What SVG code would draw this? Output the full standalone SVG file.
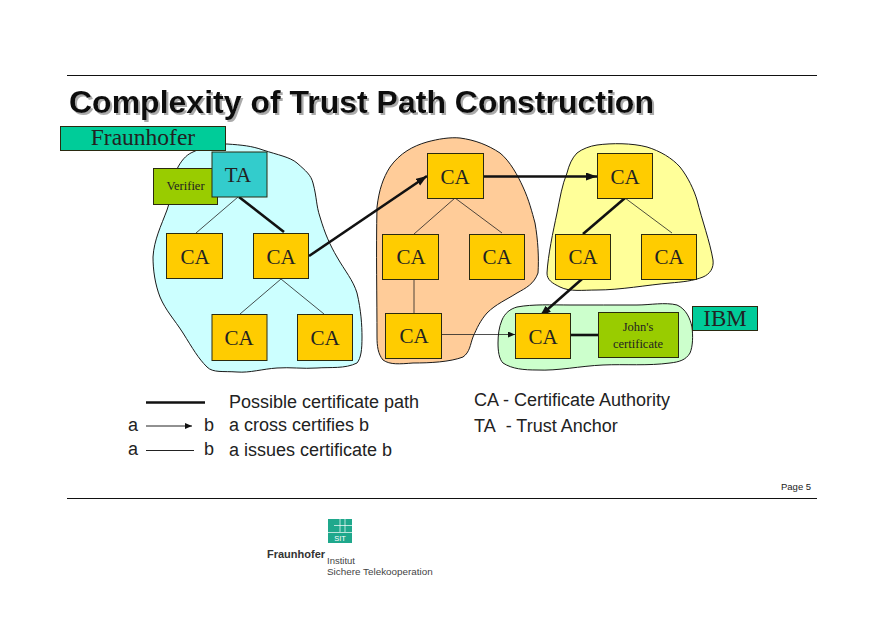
<svg xmlns="http://www.w3.org/2000/svg" width="891" height="630" viewBox="0 0 891 630">
<style>
.blob{stroke:#1a1a1a;stroke-width:1}
.box{stroke:#2a2a10;stroke-width:1}
.ca{fill:#ffcc00}
.s{font-family:"Liberation Serif",serif;fill:#222;text-anchor:middle}
.h{font-family:"Liberation Sans",Arial,sans-serif;fill:#222}
.thin{stroke:#222;stroke-width:.8;fill:none}
.thick{stroke:#111;stroke-width:2.6;fill:none}
</style>
<defs>
<marker id="a" markerUnits="userSpaceOnUse" markerWidth="12" markerHeight="10" refX="11" refY="4" orient="auto"><path d="M0 0L11 4L0 8Z" fill="#111"/></marker>
<marker id="b" markerUnits="userSpaceOnUse" markerWidth="8" markerHeight="8" refX="7" refY="3" orient="auto"><path d="M0 0L7 3L0 6Z" fill="#111"/></marker>
<filter id="sh" x="-5%" y="-20%" width="110%" height="150%"><feDropShadow dx="2" dy="2" stdDeviation="0.4" flood-color="#aaaaaa"/></filter>
</defs>
<rect width="891" height="630" fill="#fff"/>
<g id="frame">
<path d="M67 75.500H817M67 498.500H817" stroke="#111" stroke-width="1"/>
<text x="69" y="113" font-family="Liberation Sans,Arial,sans-serif" font-weight="700" font-size="32" fill="#111" filter="url(#sh)">Complexity of Trust Path Construction</text>
<text class="h" x="781" y="490" font-size="9.500">Page 5</text>
</g>
<g id="domains">
<path id="blob-blue" class="blob" fill="#ccffff" d="M178 167C183 158 188 154 193 152C205 146 215 144 227 144C242 145 252 146 263 150C278 155 290 157 297 163C306 171 311 175 313 183C317 198 316 205 320 217C325 234 330 245 337 257C345 271 353 280 357 293C361 310 362 325 362 337C362 350 361 358 357 363C345 369 330 367 317 368C303 369 290 367 277 368C262 369 250 373 237 372C223 371 213 373 207 367C198 358 193 349 183 333C174 319 166 311 160 297C155 284 153 270 153 257C154 240 161 226 167 210C172 196 173 178 178 167Z"/>
<path id="blob-orange" class="blob" fill="#ffcc99" d="M377 207C379 190 383 178 390 167C400 153 413 146 427 142C438 139 450 137 460 138C475 140 488 145 500 153C510 161 518 176 523 187C529 200 532 212 535 223C538 240 539 258 538 273C534 284 526 288 517 293C506 300 496 304 487 313C480 321 477 328 473 337C470 345 470 352 463 357C450 362 430 363 413 363C400 364 390 365 383 360C378 354 377 346 377 337C377 300 376 250 377 207Z"/>
<path id="blob-yellow" class="blob" fill="#ffff99" d="M577 153C582 149 590 146 597 145C612 143 632 143 647 147C660 151 672 158 680 167C688 177 694 190 697 200C702 220 710 242 713 260C714 268 710 274 703 277C693 281 682 282 670 283C647 285 620 290 597 290C583 290 570 292 560 287C552 283 547 280 547 273C548 255 553 232 557 213C560 198 562 185 567 173C569 165 572 158 577 153Z"/>
<path id="blob-green" class="blob" fill="#ccffcc" d="M498 343C498 335 499 327 502 320C505 313 510 309 517 307C533 304 552 305 570 305C592 305 615 305 637 305C650 305 665 302 677 305C686 309 690 318 692 327C693 336 693 346 690 353C686 360 679 362 670 363C648 366 625 364 603 365C580 366 558 371 537 370C524 370 512 369 503 363C499 359 498 351 498 343Z"/>
</g>
<g id="connectors">
<path class="thin" d="M238 197L196 233M281 279L240 314M281 279L324 314M455 198L414 234M455 198L502 233M414 279V313M625 198L672 233"/>
<path class="thin" d="M441 334.500H515" marker-end="url(#b)"/>
<path class="thick" d="M239 197L284 232"/>
<path class="thick" d="M309 256L427 176" marker-end="url(#a)"/>
<path class="thick" d="M483 176.500H597" marker-end="url(#a)"/>
<path class="thick" d="M625 198L583 234"/>
<path class="thick" d="M582 279L540 316" marker-end="url(#a)"/>
<path class="thick" d="M571 335H598"/>
</g>
<g id="fraunhofer"><rect class="box" x="60.500" y="126.500" width="165" height="24" fill="#00cc99"/><text class="s" x="143" y="145" font-size="23.500">Fraunhofer</text></g>
<g id="verifier"><rect class="box" x="153.500" y="168.500" width="64" height="36" fill="#99cc00"/><text class="s" x="185.500" y="190" font-size="12.500">Verifier</text></g>
<g id="ta"><rect class="box" x="212" y="152" width="55" height="45" fill="#33cccc"/><text class="s" x="238" y="182" font-size="21">TA</text></g>
<g id="ca1"><rect class="box ca" x="166.500" y="233.500" width="56" height="45"/><text class="s" x="195" y="264" font-size="21">CA</text></g>
<g id="ca2"><rect class="box ca" x="253.500" y="233.500" width="55" height="45"/><text class="s" x="281" y="264" font-size="21">CA</text></g>
<g id="ca3"><rect class="box ca" x="212" y="314.500" width="55" height="46"/><text class="s" x="239" y="345" font-size="21">CA</text></g>
<g id="ca4"><rect class="box ca" x="297.500" y="314.500" width="55" height="46"/><text class="s" x="325" y="345" font-size="21">CA</text></g>
<g id="ca5"><rect class="box ca" x="427.500" y="153.500" width="56" height="45"/><text class="s" x="455" y="184" font-size="21">CA</text></g>
<g id="ca6"><rect class="box ca" x="597.500" y="153.500" width="55" height="45"/><text class="s" x="625" y="184" font-size="21">CA</text></g>
<g id="ca7"><rect class="box ca" x="382.500" y="234.500" width="56" height="45"/><text class="s" x="411" y="264" font-size="21">CA</text></g>
<g id="ca8"><rect class="box ca" x="469.500" y="234.500" width="55" height="45"/><text class="s" x="497" y="264" font-size="21">CA</text></g>
<g id="ca9"><rect class="box ca" x="555.500" y="234.500" width="55" height="45"/><text class="s" x="583" y="264" font-size="21">CA</text></g>
<g id="ca10"><rect class="box ca" x="641.500" y="234.500" width="55" height="45"/><text class="s" x="669" y="264" font-size="21">CA</text></g>
<g id="ca11"><rect class="box ca" x="385.500" y="313.500" width="56" height="45"/><text class="s" x="414" y="343" font-size="21">CA</text></g>
<g id="ca12"><rect class="box ca" x="515.500" y="313.500" width="55" height="45"/><text class="s" x="543" y="344" font-size="21">CA</text></g>
<g id="johns"><rect class="box" x="598.500" y="312.500" width="80" height="45" fill="#99cc00"/><text class="s" x="638" y="331" font-size="12.500">John's</text><text class="s" x="638" y="348" font-size="12.500">certificate</text></g>
<g id="ibm"><rect class="box" x="692.500" y="306.500" width="65" height="24" fill="#00cc99"/><text class="s" x="725" y="326" font-size="23">IBM</text></g>
<g id="legend">
<path d="M146 402.500H205" stroke="#111" stroke-width="2.500"/>
<path d="M146 426H192" stroke="#222" stroke-width="1" marker-end="url(#b)"/>
<path d="M146 450.500H194" stroke="#222" stroke-width="1"/>
<g class="h" font-size="18">
<text x="229" y="408">Possible certificate path</text>
<text x="128" y="431">a</text><text x="204" y="431">b</text><text x="229" y="431">a cross certifies b</text>
<text x="128" y="455">a</text><text x="204" y="455">b</text><text x="229" y="456">a issues certificate b</text>
<text x="474" y="406">CA - Certificate Authority</text>
<text x="474" y="432">TA&#160; - Trust Anchor</text>
</g>
</g>
<g id="logo">
<rect x="328" y="519" width="24" height="24" fill="#1fa88c"/>
<path d="M328 532.500H352M340 519V532M345 519V532M334 525.500H352" stroke="#fff" stroke-width=".7" fill="none"/>
<text x="340" y="541" font-family="Liberation Sans,sans-serif" font-size="7.500" fill="#fff" text-anchor="middle">SIT</text>
<text x="267" y="558" font-family="Liberation Sans,sans-serif" font-size="11" font-weight="700" fill="#333">Fraunhofer</text>
<text x="327" y="564" font-family="Liberation Sans,sans-serif" font-size="9.500" fill="#444">Institut</text>
<text x="327" y="575" font-family="Liberation Sans,sans-serif" font-size="9.900" fill="#444">Sichere Telekooperation</text>
</g>
</svg>
